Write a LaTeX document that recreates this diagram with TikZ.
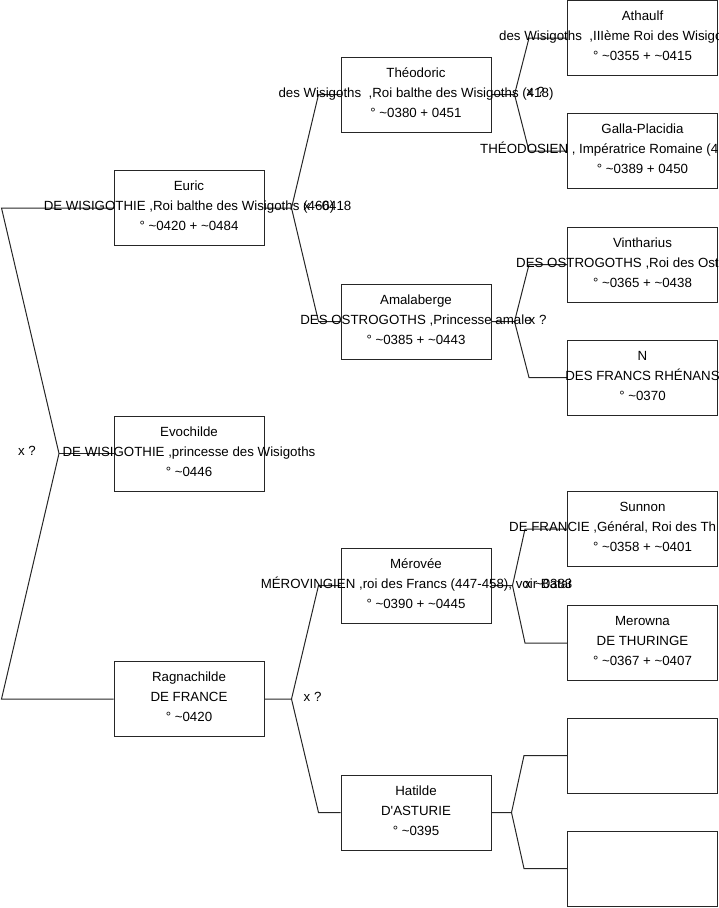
\documentclass[tikz,border=0pt]{standalone}
\usepackage{fontspec}
\setmainfont{Liberation Sans}[Ligatures=TeXOff]
\newcommand{\apx}{\textasciitilde}
% three lines of a person box
\newcommand{\fiche}[5][]{%
  \node[ptxt] (#2-n) at ([yshift=21pt]#2.center) {#3};
  \node[ptxt,#1] (#2-d) at ([yshift=1pt]#2.center) {#4};
  \node[ptxt] (#2-a) at ([yshift=-19pt]#2.center) {#5};}
% fork from a box to its two parents
\newcommand{\fourche}[5]{%
  \draw[lien] (#1.east) -- ([xshift=#4]#1.east) coordinate (#1-f) -- ([xshift=-#5]#2.west) -- (#2.west);
  \draw[lien] (#1-f) -- ([xshift=-#5]#3.west) -- (#3.west);}
\begin{document}
\begin{tikzpicture}[x=1pt,y=-1pt,
    pbox/.style={draw=black!85,line width=1pt,minimum width=150pt,minimum height=75pt,inner sep=0pt},
    ptxt/.style={font=\fontsize{13.3}{16}\selectfont,inner sep=0pt,text height=9.5pt,text depth=2.5pt},
    lien/.style={draw=black!85,line width=1pt}]
  \path[use as bounding box,clip] (0,0) rectangle (719,908);

  \node[pbox] (euric) at (189,208) {};
  \node[pbox] (evochilde) at (189,453.5) {};
  \node[pbox] (ragnachilde) at (189,699) {};
  \node[pbox] (theodoric) at (416,94.5) {};
  \node[pbox] (amalaberge) at (416,321.5) {};
  \node[pbox] (merovee) at (416,585.5) {};
  \node[pbox] (hatilde) at (416,812.5) {};
  \node[pbox] (athaulf) at (642.5,38) {};
  \node[pbox] (galla) at (642.5,151) {};
  \node[pbox] (vintharius) at (642.5,264.5) {};
  \node[pbox] (nfr) at (642.5,377.5) {};
  \node[pbox] (sunnon) at (642.5,529) {};
  \node[pbox] (merowna) at (642.5,643) {};
  \node[pbox] (vide1) at (642.5,755.5) {};
  \node[pbox] (vide2) at (642.5,868.5) {};

  \coordinate (f0) at (59,453.5);
  \draw[lien] (euric.west) -- ([xshift=-112pt]euric.west) -- (f0) -- ([xshift=-112pt]ragnachilde.west) -- (ragnachilde.west);
  \draw[lien] (f0) -- (evochilde.west);
  \node[ptxt,anchor=east] (f0-x) at ([xshift=-23pt,yshift=2pt]f0) {x ?};

  \fourche{euric}{theodoric}{amalaberge}{27pt}{22pt}
  \fourche{ragnachilde}{merovee}{hatilde}{27pt}{22pt}
  \fourche{theodoric}{athaulf}{galla}{23pt}{38pt}
  \fourche{amalaberge}{vintharius}{nfr}{23pt}{38pt}
  \fourche{merovee}{sunnon}{merowna}{21pt}{42pt}
  \fourche{hatilde}{vide1}{vide2}{20pt}{43pt}

  \fiche{euric}{Euric}{DE WISIGOTHIE ,Roi balthe des Wisigoths (466)}{° \apx0420 + \apx0484}
  \fiche{evochilde}{Evochilde}{DE WISIGOTHIE ,princesse des Wisigoths}{° \apx0446}
  \fiche{ragnachilde}{Ragnachilde}{DE FRANCE}{° \apx0420}
  \fiche{theodoric}{Théodoric}{des Wisigoths \ ,Roi balthe des Wisigoths (418)}{° \apx0380 + 0451}
  \fiche{amalaberge}{Amalaberge}{DES OSTROGOTHS ,Princesse amale}{° \apx0385 + \apx0443}
  \fiche{merovee}{Mérovée}{MÉROVINGIEN ,roi des Francs (447-458), voir Batai}{° \apx0390 + \apx0445}
  \fiche{hatilde}{Hatilde}{D'ASTURIE}{° \apx0395}
  \fiche[anchor=west,xshift=-143.5pt]{athaulf}{Athaulf}{des Wisigoths \ ,IIIème Roi des Wisigoths}{° \apx0355 + \apx0415}
  \fiche[anchor=west,xshift=-162.5pt]{galla}{Galla-Placidia}{THÉODOSIEN , Impératrice Romaine (4}{° \apx0389 + 0450}
  \fiche[anchor=west,xshift=-126.5pt]{vintharius}{Vintharius}{DES OSTROGOTHS ,Roi des Ostrogoths}{° \apx0365 + \apx0438}
  \fiche{nfr}{N}{DES FRANCS RHÉNANS}{° \apx0370}
  \fiche[anchor=west,xshift=-133.5pt]{sunnon}{Sunnon}{DE FRANCIE ,Général, Roi des Th}{° \apx0358 + \apx0401}
  \fiche{merowna}{Merowna}{DE THURINGE}{° \apx0367 + \apx0407}

  \node[ptxt,anchor=west] (euric-x) at ([xshift=12pt,yshift=1pt]euric-f) {x \apx0418};
  \node[ptxt,anchor=west] (theodoric-x) at ([xshift=12pt,yshift=2pt]theodoric-f) {x ?};
  \node[ptxt,anchor=west] (amalaberge-x) at ([xshift=14pt,yshift=1pt]amalaberge-f) {x ?};
  \node[ptxt,anchor=west] (ragnachilde-x) at ([xshift=12pt,yshift=1pt]ragnachilde-f) {x ?};
  \node[ptxt,anchor=west] (merovee-x) at ([xshift=12pt,yshift=1pt]merovee-f) {x \apx0383};
\end{tikzpicture}
\end{document}
